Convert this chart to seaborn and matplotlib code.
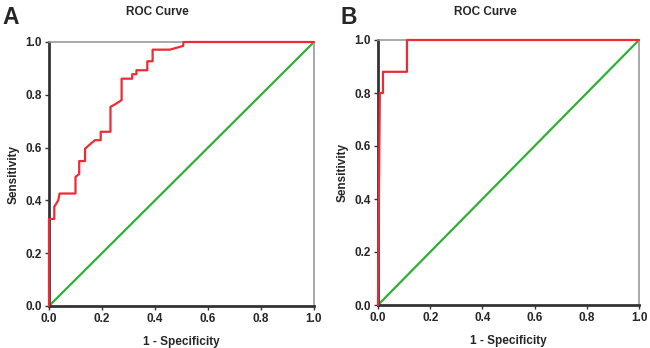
import matplotlib
matplotlib.use("Agg")
import matplotlib.pyplot as plt
import seaborn as sns
import pandas as pd

sns.set_style("white")
plt.rcParams['font.family'] = ['Liberation Sans', 'DejaVu Sans']

# Panel A ROC curve (1 - specificity, sensitivity)
fpr_a = [0.0, 0.0, 0.02, 0.02, 0.035, 0.04, 0.10, 0.10, 0.114, 0.114, 0.136, 0.136,
         0.173, 0.195, 0.195, 0.232, 0.232, 0.251, 0.274, 0.274, 0.314, 0.314,
         0.33, 0.33, 0.371, 0.371, 0.391, 0.391, 0.456, 0.506, 0.508, 1.0]
tpr_a = [0.0, 0.33, 0.33, 0.376, 0.40, 0.426, 0.426, 0.489, 0.50, 0.549, 0.549, 0.596,
         0.628, 0.628, 0.66, 0.66, 0.754, 0.765, 0.78, 0.861, 0.861, 0.878,
         0.878, 0.893, 0.893, 0.927, 0.927, 0.971, 0.971, 0.985, 1.0, 1.0]

# Panel B ROC curve
fpr_b = [0.0, 0.007, 0.019, 0.019, 0.111, 0.111, 1.0]
tpr_b = [0.0, 0.80, 0.80, 0.88, 0.88, 1.0, 1.0]

# Reference line
ref_x = [0.0, 1.0]
ref_y = [0.0, 1.0]

ticks = [0.0, 0.2, 0.4, 0.6, 0.8, 1.0]
tick_labels = ["0.0", "0.2", "0.4", "0.6", "0.8", "1.0"]

RED = "#EE2A35"
GREEN = "#2DB034"

fig = plt.figure(figsize=(6.5, 3.48), dpi=100)
W, H = 650, 348

def make_ax(l, r, t, b):
    return fig.add_axes([l / W, 1 - b / H, (r - l) / W, (b - t) / H])

ax_a = make_ax(49, 314, 42, 306)
ax_b = make_ax(378, 639, 40, 305)

panels = [(ax_a, fpr_a, tpr_a), (ax_b, fpr_b, tpr_b)]
for ax, fx, ty in panels:
    df_ref = pd.DataFrame({"x": ref_x, "y": ref_y})
    df_roc = pd.DataFrame({"x": fx, "y": ty})
    sns.lineplot(data=df_ref, x="x", y="y", ax=ax, color=GREEN, lw=1.6,
                 sort=False, estimator=None)
    sns.lineplot(data=df_roc, x="x", y="y", ax=ax, color=RED, lw=1.6,
                 sort=False, estimator=None, clip_on=False, zorder=5)
    ax.set_xlim(0, 1)
    ax.set_ylim(0, 1)
    ax.set_xticks(ticks)
    ax.set_yticks(ticks)
    ax.set_xticklabels(tick_labels, fontsize=8.5, fontweight='bold')
    ax.set_yticklabels(tick_labels, fontsize=8.5, fontweight='bold')
    ax.set_xlabel("1 - Specificity", fontsize=8.5, fontweight='bold', labelpad=8)
    ax.set_ylabel("Sensitivity", fontsize=8.5, fontweight='bold', labelpad=4)
    ax.tick_params(axis='both', direction='out', length=3, width=1, color='#333333',
                   pad=2, bottom=True, left=True)
    for s in ['left', 'bottom']:
        ax.spines[s].set_color('#333333')
        ax.spines[s].set_linewidth(2)
    for s in ['top', 'right']:
        ax.spines[s].set_color('#999999')
        ax.spines[s].set_linewidth(1.2)
    ax.set_facecolor('white')

fig.text(157 / W, 1 - 12 / H, "ROC Curve", ha='center', va='center', fontsize=8.5, fontweight='bold')
fig.text(485 / W, 1 - 12 / H, "ROC Curve", ha='center', va='center', fontsize=8.5, fontweight='bold')
fig.text(2 / W, 1 - 18 / H, "A", ha='left', va='center', fontsize=16.5, fontweight='bold')
fig.text(341 / W, 1 - 18 / H, "B", ha='left', va='center', fontsize=16.5, fontweight='bold')

fig.savefig("out.png", dpi=100, facecolor='white')
